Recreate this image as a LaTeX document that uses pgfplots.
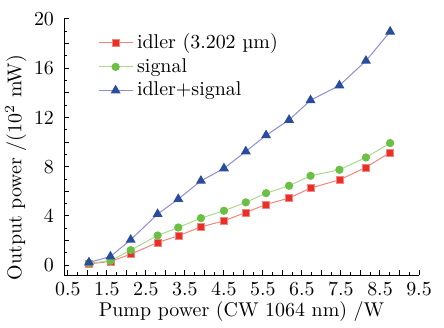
\documentclass[border=0pt]{standalone}
\usepackage{pgfplots}
\pgfplotsset{compat=1.18}
\definecolor{redm}{HTML}{E8302A}
\definecolor{redl}{HTML}{F3857A}
\definecolor{greenm}{HTML}{6CBF45}
\definecolor{greenl}{HTML}{A9D98E}
\definecolor{bluem}{HTML}{2B4C9E}
\definecolor{bluel}{HTML}{8C8CD8}
\begin{document}
\begin{tikzpicture}
\begin{axis}[
  scale only axis, width=177.5bp, height=128bp,
  xmin=0.4, xmax=9.5, ymin=-0.8, ymax=20,
  axis x line*=bottom, axis y line*=left,
  x axis line style={-}, y axis line style={-},
  xtick={0.5,1,...,9.5},
  xticklabels={0.5,,1.5,,2.5,,3.5,,4.5,,5.5,,6.5,,7.5,,8.5,,9.5},
  minor x tick num=1,
  ytick={0,2,...,20},
  yticklabels={0,,4,,8,,12,,16,,20},
  minor y tick num=1,
  tick align=inside,
  major tick length=2.5bp, minor tick length=1.3bp,
  every tick/.style={black, line width=0.5pt},
  yticklabel style={xshift=-1.5bp},
  xlabel={Pump power (CW 1064 nm) /W},
  ylabel={Output power /(10$^2$ mW)},
  xlabel style={yshift=4bp},
  ylabel style={at={(ticklabel cs:0.42)}, yshift=-3bp},
  legend style={at={(rel axis cs:0.095,0.975)}, anchor=north west, draw=none, fill=none, row sep=-0.6bp, inner xsep=0pt, font=\normalsize},
  legend cell align=left,
]
\addplot[redl, line width=0.5pt, mark=square*, mark size=1.75bp, mark options={fill=redm, draw=redl, line width=0.3pt}] coordinates {
(1.04,0.10) (1.59,0.30) (2.11,0.89) (2.80,1.84) (3.33,2.38) (3.91,3.11) (4.50,3.60) (5.06,4.28) (5.58,4.93) (6.17,5.45) (6.72,6.26) (7.46,6.93) (8.14,7.94) (8.76,9.16)};
\addlegendentry{idler (3.202 µm)}
\addplot[greenl, line width=0.5pt, mark=*, mark size=1.8bp, mark options={fill=greenm, draw=greenm}] coordinates {
(1.04,0.16) (1.59,0.35) (2.11,1.22) (2.80,2.41) (3.33,3.06) (3.91,3.82) (4.50,4.42) (5.06,5.10) (5.58,5.85) (6.17,6.45) (6.72,7.26) (7.46,7.75) (8.14,8.75) (8.76,9.92)};
\addlegendentry{signal}
\addplot[bluel, line width=0.5pt, mark=triangle*, mark size=2.4bp, mark options={fill=bluem, draw=bluem}] coordinates {
(1.04,0.22) (1.59,0.70) (2.11,2.06) (2.80,4.15) (3.33,5.37) (3.91,6.85) (4.50,7.86) (5.06,9.24) (5.58,10.55) (6.17,11.80) (6.72,13.40) (7.46,14.60) (8.14,16.60) (8.76,18.97)};
\addlegendentry{idler+signal}
\end{axis}
\pgfresetboundingbox
\path ([xshift=-32bp,yshift=-26.5bp]current axis.south west) rectangle ([xshift=12.5bp,yshift=9.5bp]current axis.north east);
\end{tikzpicture}
\end{document}
